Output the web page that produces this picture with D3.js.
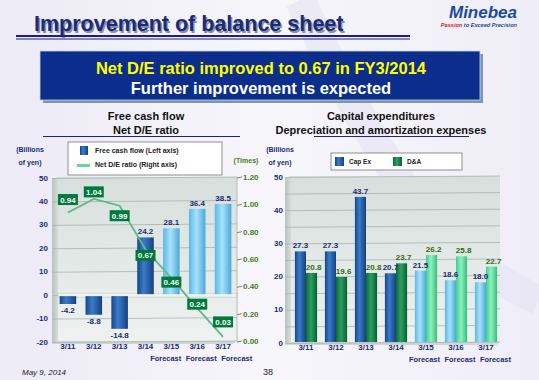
<!DOCTYPE html>
<html>
<head>
<meta charset="utf-8">
<script src="https://cdn.jsdelivr.net/npm/d3@7"></script>
<style>
	body { margin: 0; padding: 0; background: #fff; }
	text { font-family: "Liberation Sans", Arial, sans-serif; }
</style>
</head>
<body>
<svg id="slide" width="539" height="380"></svg>
<script>

// chart data
var years = ["3/11", "3/12", "3/13", "3/14", "3/15", "3/16", "3/17"];
var forecast = [false, false, false, false, true, true, true];
var freeCashFlow = [-4.2, -8.8, -14.8, 24.2, 28.1, 36.4, 38.5];
var netDERatio = [0.94, 1.04, 0.99, 0.67, 0.46, 0.24, 0.03];
var capEx = [27.3, 27.3, 43.7, 20.7, 21.5, 18.6, 18.0];
var depAmort = [20.8, 19.6, 20.8, 23.7, 26.2, 25.8, 22.7];

var leftTicks = [-20, -10, 0, 10, 20, 30, 40, 50];
var ratioTicks = [0, 0.2, 0.4, 0.6, 0.8, 1.0, 1.2];
var rightTicks = [0, 10, 20, 30, 40, 50];

// small nudges for the ratio labels so they sit like on the slide
var ratioLabelShift = [-13, -7, 10, 6, 4, -4, -15];

var navy = "#1a2b78";
var svg = d3.select("#slide");
var defs = svg.append("defs");

// plain hyphen for negatives, like on the slide
var fmt1 = function(v) { return v.toFixed(1); };


function makeGradient(id, stops, vertical) {
	var g = defs.append("linearGradient")
				.attr("id", id)
				.attr("x1", 0).attr("y1", 0)
				.attr("x2", vertical ? 0 : 1)
				.attr("y2", vertical ? 1 : 0);
	stops.forEach(function(s) {
		g.append("stop").attr("offset", s[0]).attr("stop-color", s[1]);
	});
}

makeGradient("bg", [[0, "#ecebf6"], [0.5, "#f7f6fb"], [1, "#efeef8"]], false);
makeGradient("wall", [[0, "#d7dfdc"], [1, "#eef2f0"]], true);
makeGradient("side", [[0, "#b9c2bf"], [1, "#d6dcda"]], false);
makeGradient("darkBlue", [[0, "#17468c"], [0.4, "#3a7bc8"], [1, "#163f80"]], false);
makeGradient("lightBlue", [[0, "#5ab8e6"], [0.45, "#a8e2fa"], [1, "#4aa8da"]], false);
makeGradient("darkGreen", [[0, "#0c6a38"], [0.45, "#2aa061"], [1, "#0a5e31"]], false);
makeGradient("lightGreen", [[0, "#3fcf8c"], [0.45, "#8ff0c0"], [1, "#34bf7e"]], false);


// background and header
svg.append("rect")
	.attr("width", 539).attr("height", 380)
	.attr("fill", "url(#bg)");

svg.append("path")
	.attr("d", "M300,0 C360,120 420,250 539,300")
	.attr("fill", "none")
	.attr("stroke", "#e4e2f1")
	.attr("stroke-width", 30)
	.attr("opacity", 0.6);

svg.append("text")
	.attr("x", 34).attr("y", 31)
	.attr("font-size", 21.5).attr("font-weight", "bold")
	.attr("fill", "#8a8fa8")
	.text("Improvement of balance sheet")
	.attr("transform", "translate(1.5,1.5)");

svg.append("text")
	.attr("x", 34).attr("y", 31)
	.attr("font-size", 21.5).attr("font-weight", "bold")
	.attr("fill", navy)
	.text("Improvement of balance sheet");

svg.append("rect").attr("x", 16).attr("y", 35).attr("width", 394).attr("height", 2).attr("fill", "#1c1c8a");
svg.append("rect").attr("x", 16).attr("y", 38.5).attr("width", 394).attr("height", 1).attr("fill", "#1c1c8a");

svg.append("text")
	.attr("x", 517).attr("y", 18)
	.attr("text-anchor", "end")
	.attr("font-size", 17).attr("font-weight", "bold").attr("font-style", "italic")
	.attr("fill", "#1b4b9c")
	.text("Minebea");

var tag = svg.append("text")
	.attr("x", 517).attr("y", 27)
	.attr("text-anchor", "end")
	.attr("font-size", 5.6).attr("font-weight", "bold").attr("font-style", "italic");
tag.append("tspan").attr("fill", "#d0202a").text("Passion ");
tag.append("tspan").attr("fill", "#1b4b9c").text("to Exceed Precision");

// banner
svg.append("rect")
	.attr("x", 43).attr("y", 54).attr("width", 440).attr("height", 49)
	.attr("fill", "#7f97a8");
svg.append("rect")
	.attr("x", 40).attr("y", 51).attr("width", 440).attr("height", 49)
	.attr("fill", "#0b2d8c")
	.attr("stroke", "#c9d2e8").attr("stroke-width", 0.8);

svg.append("text")
	.attr("x", 261).attr("y", 74)
	.attr("text-anchor", "middle")
	.attr("font-size", 16.5).attr("font-weight", "bold")
	.attr("fill", "#ffff00")
	.text("Net D/E ratio improved to 0.67 in FY3/2014");

svg.append("text")
	.attr("x", 261).attr("y", 94)
	.attr("text-anchor", "middle")
	.attr("font-size", 16.5).attr("font-weight", "bold")
	.attr("fill", "#ffffff")
	.text("Further improvement is expected");


function chartTitle(cx, lines, x1, x2) {
	lines.forEach(function(t, i) {
		svg.append("text")
			.attr("x", cx).attr("y", 120 + i * 14)
			.attr("text-anchor", "middle")
			.attr("font-size", 11).attr("font-weight", "bold")
			.attr("fill", "#111")
			.text(t);
	});
	svg.append("line")
		.attr("x1", x1).attr("x2", x2)
		.attr("y1", 136.5).attr("y2", 136.5)
		.attr("stroke", "#20208a").attr("stroke-width", 1);
}

function unitLabel(x, anchor) {
	svg.append("text").attr("x", x).attr("y", 152)
		.attr("text-anchor", anchor)
		.attr("font-size", 7).attr("font-weight", "bold").attr("fill", navy)
		.text("(Billions");
	svg.append("text").attr("x", x).attr("y", 165)
		.attr("text-anchor", anchor)
		.attr("font-size", 7).attr("font-weight", "bold").attr("fill", navy)
		.text("of yen)");
}

// 3D-ish plot box: back wall, left side wall, floor
function plotBox(x0, x1, yTop, yBottom) {
	svg.append("path")
		.attr("d", "M" + (x0 - 6) + "," + (yTop + 2) + " L" + x0 + "," + yTop +
			" L" + x0 + "," + yBottom + " L" + (x0 - 6) + "," + (yBottom + 3) + " Z")
		.attr("fill", "url(#side)");
	svg.append("rect")
		.attr("x", x0).attr("y", yTop)
		.attr("width", x1 - x0).attr("height", yBottom - yTop)
		.attr("fill", "url(#wall)");
	svg.append("path")
		.attr("d", "M" + (x0 - 6) + "," + (yBottom + 3) + " L" + x0 + "," + yBottom +
			" L" + x1 + "," + yBottom + " L" + (x1 - 4) + "," + (yBottom + 3) + " Z")
		.attr("fill", "#cfd6d3");
}

function gridLines(ticks, y, x0, x1) {
	svg.append("g")
		.selectAll("line")
		.data(ticks).enter()
		.append("line")
		.attr("x1", x0 - 6).attr("x2", x1)
		.attr("y1", function(d) { return y(d) + 1.5; })
		.attr("y2", function(d) { return y(d); })
		.attr("stroke", "#a9b2af").attr("stroke-width", 0.8);
}

function leftAxis(ticks, y, x) {
	svg.append("g")
		.selectAll("text")
		.data(ticks).enter()
		.append("text")
		.attr("x", x).attr("y", function(d) { return y(d) + 3.5; })
		.attr("text-anchor", "end")
		.attr("font-size", 8).attr("font-weight", "bold").attr("fill", navy)
		.text(function(d) { return d; });
}

// category labels; the "Forecast" words are laid out in a row under the forecast bars
function categoryLabels(x, yLab) {
	svg.append("g")
		.selectAll("text")
		.data(years).enter()
		.append("text")
		.attr("x", function(d) { return x(d) + x.bandwidth() / 2; })
		.attr("y", yLab)
		.attr("text-anchor", "middle")
		.attr("font-size", 8).attr("font-weight", "bold").attr("fill", navy)
		.text(function(d) { return d; });

	var fc = years.filter(function(d, i) { return forecast[i]; });
	var mid = d3.mean(fc, function(d) { return x(d) + x.bandwidth() / 2; }) + 4;

	svg.append("g")
		.selectAll("text")
		.data(fc).enter()
		.append("text")
		.attr("x", function(d, i) { return mid + (i - (fc.length - 1) / 2) * 35.5; })
		.attr("y", yLab + 12)
		.attr("text-anchor", "middle")
		.attr("font-size", 7.4).attr("font-weight", "bold").attr("fill", navy)
		.text("Forecast");
}


// ---------- left chart: free cash flow and net D/E ratio ----------
chartTitle(146, ["Free cash flow", "Net D/E ratio"], 43, 240);
unitLabel(30, "middle");

svg.append("text").attr("x", 246).attr("y", 163)
	.attr("text-anchor", "middle")
	.attr("font-size", 7).attr("font-weight", "bold").attr("fill", "#4d7a1e")
	.text("(Times)");

var xL = d3.scaleBand().domain(years).range([55, 236]).paddingInner(0.36).paddingOuter(0.18);
var yL = d3.scaleLinear().domain([-20, 50]).range([341, 177]);
var yR = d3.scaleLinear().domain([0, 1.2]).range([341, 177]);

plotBox(58, 237, 177, 341);
gridLines(leftTicks, yL, 58, 237);

// zero plane
svg.append("rect")
	.attr("x", 58).attr("y", yL(0) - 1)
	.attr("width", 179).attr("height", 4)
	.attr("fill", "#eef2f1").attr("stroke", "#b9c1be").attr("stroke-width", 0.5);

leftAxis(leftTicks, yL, 48);

// right axis
svg.append("line")
	.attr("x1", 237).attr("x2", 237).attr("y1", 177).attr("y2", 341)
	.attr("stroke", "#b6bdba");

var ra = svg.append("g").selectAll("g").data(ratioTicks).enter().append("g");
ra.append("line")
	.attr("x1", 237).attr("x2", 242)
	.attr("y1", function(d) { return yR(d) + 1; })
	.attr("y2", function(d) { return yR(d); })
	.attr("stroke", "#7a8a6a");
ra.append("text")
	.attr("x", 243).attr("y", function(d) { return yR(d) + 3; })
	.attr("font-size", 8).attr("font-weight", "bold").attr("fill", "#4d7a1e")
	.text(function(d) { return d3.format(".2f")(d); });

// free cash flow bars
svg.append("g")
	.selectAll("rect")
	.data(freeCashFlow).enter()
	.append("rect")
	.attr("x", function(d, i) { return xL(years[i]); })
	.attr("y", function(d) { return d >= 0 ? yL(d) : yL(0) + 2; })
	.attr("width", xL.bandwidth())
	.attr("height", function(d) { return Math.abs(yL(d) - yL(0)) - (d < 0 ? 2 : 0); })
	.attr("fill", function(d, i) { return forecast[i] ? "url(#lightBlue)" : "url(#darkBlue)"; });

svg.append("g")
	.selectAll("text")
	.data(freeCashFlow).enter()
	.append("text")
	.attr("x", function(d, i) { return xL(years[i]) + xL.bandwidth() / 2; })
	.attr("y", function(d) { return d >= 0 ? yL(d) - 3 : yL(d) + 9; })
	.attr("text-anchor", "middle")
	.attr("font-size", 8).attr("font-weight", "bold").attr("fill", navy)
	.text(fmt1);

// net D/E line
var ratioLine = d3.line()
	.x(function(d, i) { return xL(years[i]) + xL.bandwidth() / 2; })
	.y(function(d) { return yR(d); });

svg.append("path")
	.datum(netDERatio)
	.attr("d", ratioLine)
	.attr("fill", "none")
	.attr("stroke", "#5fb88a").attr("stroke-width", 1.8);

var rl = svg.append("g")
	.selectAll("g")
	.data(netDERatio).enter()
	.append("g")
	.attr("transform", function(d, i) {
		return "translate(" + (xL(years[i]) + xL.bandwidth() / 2) + "," + (yR(d) + ratioLabelShift[i]) + ")";
	});
rl.append("rect")
	.attr("x", -10).attr("y", -5.5).attr("width", 20).attr("height", 11)
	.attr("fill", "#007a3a");
rl.append("text")
	.attr("y", 3)
	.attr("text-anchor", "middle")
	.attr("font-size", 8).attr("font-weight", "bold").attr("fill", "#fff")
	.text(function(d) { return d3.format(".2f")(d); });

categoryLabels(xL, 349);

// left legend
svg.append("rect")
	.attr("x", 68).attr("y", 142).attr("width", 154).attr("height", 33)
	.attr("fill", "#fff").attr("stroke", "#777").attr("stroke-width", 0.8);
svg.append("rect")
	.attr("x", 80).attr("y", 146).attr("width", 8).attr("height", 9)
	.attr("fill", "url(#darkBlue)");
svg.append("text").attr("x", 95).attr("y", 153)
	.attr("font-size", 7).attr("font-weight", "bold").attr("fill", "#222")
	.text("Free cash flow (Left axis)");
svg.append("rect")
	.attr("x", 77).attr("y", 164).attr("width", 13).attr("height", 3)
	.attr("fill", "#6cd39c");
svg.append("text").attr("x", 95).attr("y", 167)
	.attr("font-size", 7).attr("font-weight", "bold").attr("fill", "#222")
	.text("Net D/E ratio (Right axis)");


// ---------- right chart: capex and D&A ----------
chartTitle(381, ["Capital expenditures", "Depreciation and amortization expenses"], 314, 469);
unitLabel(280, "middle");

var xR = d3.scaleBand().domain(years).range([291, 501]).paddingInner(0.26).paddingOuter(0.13);
var sub = d3.scaleBand().domain(["cap", "da"]).range([0, xR.bandwidth()]);
var yC = d3.scaleLinear().domain([0, 50]).range([342, 176]);

plotBox(291, 500, 176, 342);
gridLines(d3.range(0, 51, 5), yC, 291, 500);
leftAxis(rightTicks, yC, 283);

var groups = svg.append("g")
	.selectAll("g")
	.data(years).enter()
	.append("g")
	.attr("transform", function(d) { return "translate(" + xR(d) + ",0)"; });

groups.append("rect")
	.attr("x", sub("cap"))
	.attr("y", function(d, i) { return yC(capEx[i]); })
	.attr("width", sub.bandwidth())
	.attr("height", function(d, i) { return yC(0) - yC(capEx[i]); })
	.attr("fill", function(d, i) { return forecast[i] ? "url(#lightBlue)" : "url(#darkBlue)"; });

groups.append("rect")
	.attr("x", sub("da"))
	.attr("y", function(d, i) { return yC(depAmort[i]); })
	.attr("width", sub.bandwidth())
	.attr("height", function(d, i) { return yC(0) - yC(depAmort[i]); })
	.attr("fill", function(d, i) { return forecast[i] ? "url(#lightGreen)" : "url(#darkGreen)"; });

groups.append("text")
	.attr("x", sub("cap") + sub.bandwidth() / 2)
	.attr("y", function(d, i) { return yC(capEx[i]) - 3; })
	.attr("text-anchor", "middle")
	.attr("font-size", 8).attr("font-weight", "bold").attr("fill", navy)
	.text(function(d, i) { return fmt1(capEx[i]); });

groups.append("text")
	.attr("x", sub("da") + sub.bandwidth() / 2 + 2)
	.attr("y", function(d, i) { return yC(depAmort[i]) - 3; })
	.attr("text-anchor", "middle")
	.attr("font-size", 8).attr("font-weight", "bold").attr("fill", "#2e6b12")
	.text(function(d, i) { return fmt1(depAmort[i]); });

categoryLabels(xR, 350);

// right legend
svg.append("rect")
	.attr("x", 331).attr("y", 153).attr("width", 131).attr("height", 17)
	.attr("fill", "#fff").attr("stroke", "#777").attr("stroke-width", 0.8);
svg.append("rect")
	.attr("x", 335).attr("y", 157).attr("width", 9).attr("height", 9)
	.attr("fill", "url(#darkBlue)");
svg.append("text").attr("x", 349).attr("y", 164)
	.attr("font-size", 6.5).attr("font-weight", "bold").attr("fill", "#222")
	.text("Cap Ex");
svg.append("rect")
	.attr("x", 393).attr("y", 157).attr("width", 9).attr("height", 9)
	.attr("fill", "url(#darkGreen)");
svg.append("text").attr("x", 407).attr("y", 164)
	.attr("font-size", 6.5).attr("font-weight", "bold").attr("fill", "#222")
	.text("D&A");


// footer
svg.append("text")
	.attr("x", 22).attr("y", 375)
	.attr("font-size", 8).attr("font-style", "italic").attr("fill", "#222")
	.text("May 9, 2014");

svg.append("text")
	.attr("x", 263).attr("y", 375)
	.attr("font-size", 9).attr("fill", "#222")
	.text("38");

</script>
</body>
</html>
